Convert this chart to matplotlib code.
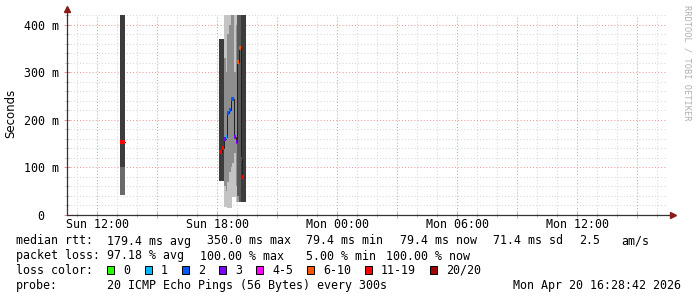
import matplotlib
matplotlib.use("Agg")
import matplotlib.pyplot as plt
import matplotlib.dates as mdates
from matplotlib.patches import Rectangle
from matplotlib.ticker import FuncFormatter, MultipleLocator
import numpy as np
import pandas as pd

# --- data (ms) ---
smoke_start = ['2026-04-19 13:07', '2026-04-19 13:12', '2026-04-19 13:17',
               '2026-04-19 18:05', '2026-04-19 18:10', '2026-04-19 18:15',
               '2026-04-19 18:20', '2026-04-19 18:25', '2026-04-19 18:30',
               '2026-04-19 18:35', '2026-04-19 18:40', '2026-04-19 18:45',
               '2026-04-19 18:50', '2026-04-19 18:55', '2026-04-19 19:00',
               '2026-04-19 19:05', '2026-04-19 19:10', '2026-04-19 19:15',
               '2026-04-19 19:20']
ping_lo = [42, 42, 42, 72, 72, 72, 17, 17, 15, 15, 15, 38, 38, 27, 27, 27, 27, 27, 27]
ping_hi = [420, 420, 420, 370, 370, 370, 420, 420, 420, 420, 420, 420, 420, 420, 420, 420, 420, 420, 420]
core_lo = [100, 100, 100, 72, 72, 72, 60, 50, 70, 90, 100, 110, 130, 60, 40, 27, 27, 27, 27]
core_hi = [420, 420, 420, 370, 370, 370, 330, 300, 380, 400, 420, 420, 300, 400, 420, 420, 420, 420, 420]
median = [154, 154, 154, 132, 132, 140, 160, 164, 215, 220, 244, 244, 164, 154, 322, 350, 118, 80, np.nan]
loss = [16, 16, 16, 16, 16, 14, 3, 1, 2, 2, 2, 2, 3, 3, 8, 8, 15, 15, 18]

loss_labels = ['0', '1', '2', '3', '4-5', '6-10', '11-19', '20/20']
loss_upper = [0, 1, 2, 3, 5, 10, 19, 20]
loss_colors = ['#26ff00', '#00b8ff', '#0059ff', '#7e00ff', '#ff00ff', '#ff5500', '#ff0000', '#a10000']

t_start = pd.Timestamp('2026-04-19 10:28:42')
t_end = pd.Timestamp('2026-04-20 16:28:42')

stats_rtt = ['179.4 ms avg', '350.0 ms max', '79.4 ms min', '79.4 ms now', '71.4 ms sd', '2.5', 'am/s']
stats_loss = ['97.18 % avg', '100.00 % max', '5.00 % min', '100.00 % now']
probe_text = '20 ICMP Echo Pings (56 Bytes) every 300s'
stamp = 'Mon Apr 20 16:28:42 2026'

W, H = 697, 297
MONO = 'DejaVu Sans Mono'
FS = 8.4


def loss_color(n):
    for up, c in zip(loss_upper, loss_colors):
        if n <= up:
            return c
    return loss_colors[-1]


def smoke_gray(n):
    # fewer answered pings -> darker smoke
    if n >= 11:
        return '#6a6a6a', '#3c3c3c'
    if n >= 6:
        return '#9a9a9a', '#5a5a5a'
    return '#c4c4c4', '#8e8e8e'


fig = plt.figure(figsize=(W / 100, H / 100), dpi=100)
ax = fig.add_axes([67 / W, (H - 215) / H, 600 / W, 200 / H])

x = mdates.date2num(pd.to_datetime(smoke_start))
step = 5 / 1440.0
for i in range(len(x)):
    outer, core = smoke_gray(loss[i])
    ax.bar(x[i], ping_hi[i] - ping_lo[i], bottom=ping_lo[i], width=step,
           align='edge', color=outer, linewidth=0, zorder=2)
    ax.bar(x[i], core_hi[i] - core_lo[i], bottom=core_lo[i], width=step,
           align='edge', color=core, linewidth=0, zorder=3)

# median line: thin dark connector within each run of samples, coloured by loss
med = np.array(median, dtype=float)
runs = np.split(np.arange(len(x)), np.where(np.diff(x) > step * 1.5)[0] + 1)
for r in runs:
    xs = np.append(x[r], x[r][-1] + step)
    ys = np.append(med[r], med[r][-1])
    ax.step(xs, ys, where='post', color='#202020', lw=0.7, zorder=4)
for i in range(len(x)):
    if not np.isnan(med[i]):
        ax.hlines(med[i], x[i], x[i] + step, colors=loss_color(loss[i]), lw=2.8, zorder=5)

ax.set_xlim(mdates.date2num(t_start), mdates.date2num(t_end))
ax.set_ylim(0, 420)

ax.xaxis.set_major_locator(mdates.HourLocator(byhour=range(0, 24, 3)))
ax.xaxis.set_minor_locator(mdates.HourLocator())


def xfmt(v, pos):
    d = mdates.num2date(v)
    return d.strftime('%a %H:%M') if d.hour % 6 == 0 else ''


ax.xaxis.set_major_formatter(FuncFormatter(xfmt))
ax.yaxis.set_major_locator(MultipleLocator(100))
ax.yaxis.set_minor_locator(MultipleLocator(20))
ax.yaxis.set_major_formatter(FuncFormatter(lambda v, p: '0  ' if v == 0 else '%d m' % v))

ax.grid(which='minor', color='#d8d8d8', linestyle=(0, (1, 2)), lw=0.75, zorder=1)
ax.grid(which='major', color='#e89a9a', linestyle=(0, (1, 2)), lw=0.75, zorder=1)
ax.set_axisbelow(True)

ax.tick_params(which='major', direction='inout', length=4, width=0.7, color='#e89a9a',
               labelsize=FS, labelcolor='black', pad=0.5)
ax.tick_params(which='minor', direction='inout', length=3, width=0.7, color='#c0c0c0')
ax.tick_params(axis='y', which='major', pad=4)
for lab in ax.get_xticklabels() + ax.get_yticklabels():
    lab.set_family(MONO)

for s in ax.spines.values():
    s.set_visible(False)
ax.patch.set_alpha(0)

# axes with arrows
ax.plot([0, 0], [0, 1.03], transform=ax.transAxes, color='#333333', lw=0.9, clip_on=False, zorder=6)
ax.plot([0, 1.01], [0, 0], transform=ax.transAxes, color='#333333', lw=0.9, clip_on=False, zorder=6)
ax.plot([0], [1.03], marker='^', ms=4, color='#8b1a1a', transform=ax.transAxes, clip_on=False, zorder=7)
ax.plot([1.01], [0], marker='>', ms=4, color='#8b1a1a', transform=ax.transAxes, clip_on=False, zorder=7)

fig.text(11 / W, (H - 113) / H, 'Seconds', rotation=90, ha='center', va='center',
         fontsize=8.5, family='DejaVu Sans')
fig.text(687 / W, (H - 5) / H, 'RRDTOOL / TOBI OETIKER', rotation=270, ha='center', va='top',
         fontsize=6.2, family=MONO, color='#b0b0b0')


def row(y):
    return (H - y) / H


# legend rows
fig.text(16 / W, row(241), 'median rtt:', fontsize=FS, family=MONO, va='center')
for xp, s in zip([107, 207, 306, 400, 493, 579, 621], stats_rtt):
    fig.text(xp / W, row(241), s, fontsize=FS, family=MONO, va='center')

fig.text(16 / W, row(256), 'packet loss:', fontsize=FS, family=MONO, va='center')
for xp, s in zip([107, 200, 306, 386], stats_loss):
    fig.text(xp / W, row(256), s, fontsize=FS, family=MONO, va='center')

fig.text(16 / W, row(270), 'loss color:', fontsize=FS, family=MONO, va='center')
sq_x = [107, 145, 182, 219, 256, 307, 365, 430]
for xp, lab, c in zip(sq_x, loss_labels, loss_colors):
    fig.patches.append(Rectangle((xp / W, (H - 274) / H), 7 / W, 8 / H, transform=fig.transFigure,
                                 facecolor=c, edgecolor='black', lw=0.7, figure=fig))
    fig.text((xp + 16) / W, row(270), lab, fontsize=FS, family=MONO, va='center')

fig.text(16 / W, row(285), 'probe:', fontsize=FS, family=MONO, va='center')
fig.text(107 / W, row(285), probe_text, fontsize=FS, family=MONO, va='center')
fig.text(681 / W, row(285), stamp, fontsize=FS, family=MONO, va='center', ha='right')

fig.savefig('out.png', dpi=100, facecolor='white')
